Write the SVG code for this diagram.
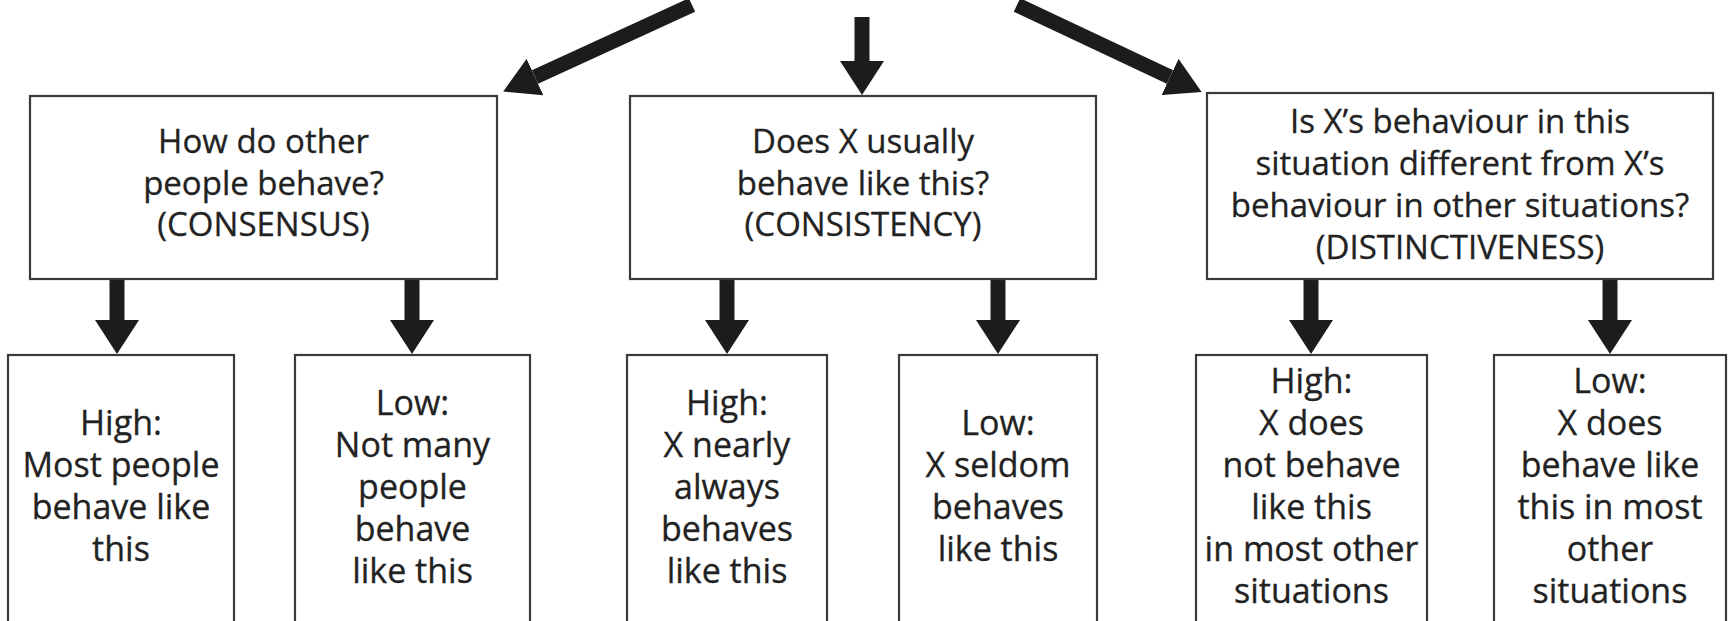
<svg xmlns="http://www.w3.org/2000/svg" width="1734" height="621" viewBox="0 0 1734 621">
<style>
.box{fill:#fff;stroke:#3a3a3a;stroke-width:2.2}
.t{font-family:"Open Sans","Noto Sans","Liberation Sans",sans-serif;font-size:33px;fill:#222;stroke:#222;stroke-width:0.3;text-anchor:middle}
.b{font-family:"Open Sans","Noto Sans","Liberation Sans",sans-serif;font-size:34px;fill:#222;stroke:#222;stroke-width:0.3;text-anchor:middle}
.c{stroke:#1c1c1c;stroke-width:15;fill:none}
</style>
<defs>
<marker id="ah" viewBox="0 0 34 44" refX="0" refY="22" markerWidth="34" markerHeight="44" orient="auto" markerUnits="userSpaceOnUse">
<path d="M0,0 L34,22 L0,44 Z" fill="#1c1c1c"/>
</marker>
<marker id="ahd" viewBox="0 0 35 40" refX="0" refY="20" markerWidth="35" markerHeight="40" orient="auto" markerUnits="userSpaceOnUse">
<path d="M0,0 L35,20 L0,40 Z" fill="#1c1c1c"/>
</marker>
</defs>
<rect width="1734" height="621" fill="#fff"/>
<g id="connectors">
<line class="c" x1="692" y1="5" x2="535" y2="77" marker-end="url(#ahd)"/>
<line class="c" x1="862" y1="17" x2="862" y2="61" marker-end="url(#ah)"/>
<line class="c" x1="1017" y1="5" x2="1170" y2="77" marker-end="url(#ahd)"/>
<line class="c" x1="117" y1="279" x2="117" y2="320" marker-end="url(#ah)"/>
<line class="c" x1="412" y1="279" x2="412" y2="320" marker-end="url(#ah)"/>
<line class="c" x1="727" y1="279" x2="727" y2="320" marker-end="url(#ah)"/>
<line class="c" x1="998" y1="279" x2="998" y2="320" marker-end="url(#ah)"/>
<line class="c" x1="1311" y1="279" x2="1311" y2="320" marker-end="url(#ah)"/>
<line class="c" x1="1610" y1="279" x2="1610" y2="320" marker-end="url(#ah)"/>
</g>
<g id="consensus">
<rect class="box" x="30" y="96" width="467" height="183"/>
<text class="t" x="263.5" y="153">How do other</text>
<text class="t" x="263.5" y="195">people behave?</text>
<text class="t" x="263.5" y="236">(CONSENSUS)</text>
</g>
<g id="consistency">
<rect class="box" x="630" y="96" width="466" height="183"/>
<text class="t" x="863" y="153">Does X usually</text>
<text class="t" x="863" y="195">behave like this?</text>
<text class="t" x="863" y="236">(CONSISTENCY)</text>
</g>
<g id="distinctiveness">
<rect class="box" x="1207" y="93" width="506" height="186"/>
<text class="t" x="1460" y="133">Is X’s behaviour in this</text>
<text class="t" x="1460" y="175">situation different from X’s</text>
<text class="t" x="1460" y="217">behaviour in other situations?</text>
<text class="t" x="1460" y="259">(DISTINCTIVENESS)</text>
</g>
<g id="consensus-high">
<rect class="box" x="8" y="355" width="226" height="300"/>
<text class="b" x="121" y="435">High:</text>
<text class="b" x="121" y="477">Most people</text>
<text class="b" x="121" y="519">behave like</text>
<text class="b" x="121" y="561">this</text>
</g>
<g id="consensus-low">
<rect class="box" x="295" y="355" width="235" height="300"/>
<text class="b" x="412.5" y="415">Low:</text>
<text class="b" x="412.5" y="457">Not many</text>
<text class="b" x="412.5" y="499">people</text>
<text class="b" x="412.5" y="541">behave</text>
<text class="b" x="412.5" y="583">like this</text>
</g>
<g id="consistency-high">
<rect class="box" x="627" y="355" width="200" height="300"/>
<text class="b" x="727" y="415">High:</text>
<text class="b" x="727" y="457">X nearly</text>
<text class="b" x="727" y="499">always</text>
<text class="b" x="727" y="541">behaves</text>
<text class="b" x="727" y="583">like this</text>
</g>
<g id="consistency-low">
<rect class="box" x="899" y="355" width="198" height="300"/>
<text class="b" x="998" y="435">Low:</text>
<text class="b" x="998" y="477">X seldom</text>
<text class="b" x="998" y="519">behaves</text>
<text class="b" x="998" y="561">like this</text>
</g>
<g id="distinctiveness-high">
<rect class="box" x="1196" y="355" width="231" height="300"/>
<text class="b" x="1311.5" y="393">High:</text>
<text class="b" x="1311.5" y="435">X does</text>
<text class="b" x="1311.5" y="477">not behave</text>
<text class="b" x="1311.5" y="519">like this</text>
<text class="b" x="1311.5" y="561">in most other</text>
<text class="b" x="1311.5" y="603">situations</text>
</g>
<g id="distinctiveness-low">
<rect class="box" x="1494" y="355" width="232" height="300"/>
<text class="b" x="1610" y="393">Low:</text>
<text class="b" x="1610" y="435">X does</text>
<text class="b" x="1610" y="477">behave like</text>
<text class="b" x="1610" y="519">this in most</text>
<text class="b" x="1610" y="561">other</text>
<text class="b" x="1610" y="603">situations</text>
</g>
</svg>
